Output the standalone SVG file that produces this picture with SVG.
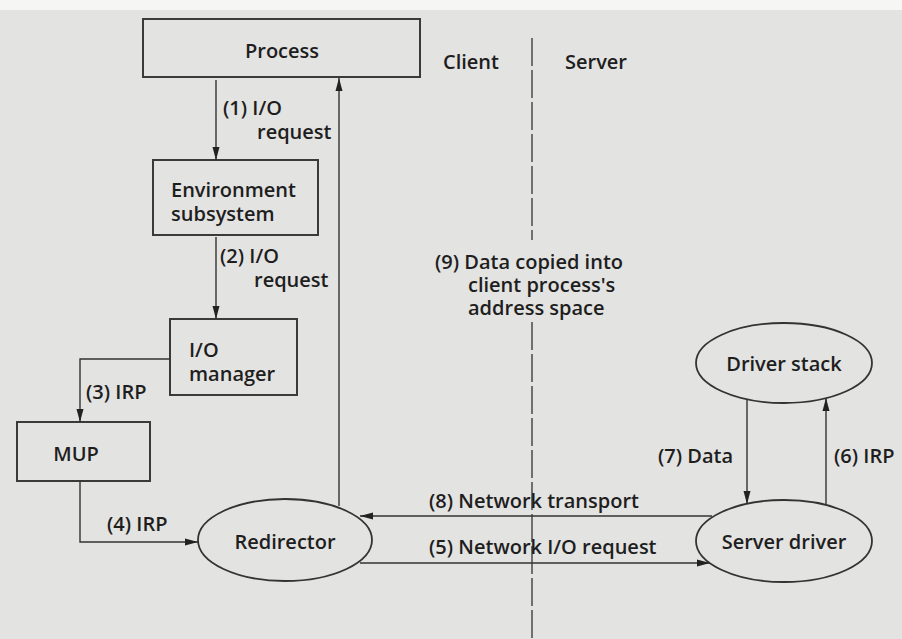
<svg xmlns="http://www.w3.org/2000/svg" width="902" height="639" viewBox="0 0 902 639">
<style>
.box{fill:none;stroke:#3a3a3a;stroke-width:2}
.ell{fill:none;stroke:#333;stroke-width:1.8}
.t{font-family:"Open Sans","Liberation Sans",sans-serif;font-size:20px;font-weight:600;fill:#1e1e1e}
.c{stroke:#333;stroke-width:1.4;fill:none}
.dash{stroke:#333;stroke-width:1.3;stroke-dasharray:28 4;fill:none}
</style>
<defs>
<marker id="ah" markerUnits="userSpaceOnUse" markerWidth="14" markerHeight="8" refX="13" refY="4" orient="auto">
<path d="M0,0.5 L13,4 L0,7.5 z" fill="#222"/>
</marker>
</defs>
<rect width="902" height="639" fill="#e3e3e1"/>
<rect width="902" height="10" fill="#f6f6f4"/>

<g id="divider">
<path class="dash" d="M532,38 V240"/>
<path class="dash" d="M532,322 V639"/>
<text class="t" x="443" y="69">Client</text>
<text class="t" x="565" y="69">Server</text>
</g>

<g id="process">
<rect class="box" x="143" y="19" width="277" height="58"/>
<text class="t" x="282" y="58" text-anchor="middle">Process</text>
</g>
<g id="env">
<rect class="box" x="153" y="160" width="165" height="75"/>
<text class="t" x="171" y="197">Environment</text>
<text class="t" x="171" y="221">subsystem</text>
</g>
<g id="iomgr">
<rect class="box" x="170" y="319" width="127" height="76"/>
<text class="t" x="189" y="357">I/O</text>
<text class="t" x="189" y="381">manager</text>
</g>
<g id="mup">
<rect class="box" x="17" y="422" width="133" height="59"/>
<text class="t" x="76" y="461" text-anchor="middle">MUP</text>
</g>
<g id="redirector">
<ellipse class="ell" cx="285" cy="540" rx="87" ry="41"/>
<text class="t" x="285" y="549" text-anchor="middle">Redirector</text>
</g>
<g id="driverstack">
<ellipse class="ell" cx="784" cy="363" rx="88" ry="40"/>
<text class="t" x="784" y="371" text-anchor="middle">Driver stack</text>
</g>
<g id="serverdriver">
<ellipse class="ell" cx="784" cy="541" rx="88" ry="41"/>
<text class="t" x="784" y="549" text-anchor="middle">Server driver</text>
</g>

<g id="connectors">
<path class="c" d="M216,80 V160" marker-end="url(#ah)"/>
<path class="c" d="M216,237 V319" marker-end="url(#ah)"/>
<path class="c" d="M170,359 H80 V422" marker-end="url(#ah)"/>
<path class="c" d="M80,481 V542 H198" marker-end="url(#ah)"/>
<path class="c" d="M339,506 V78" marker-end="url(#ah)"/>
<path class="c" d="M712,516 H360" marker-end="url(#ah)"/>
<path class="c" d="M360,563 H710" marker-end="url(#ah)"/>
<path class="c" d="M747,399 V504" marker-end="url(#ah)"/>
<path class="c" d="M826,505 V398" marker-end="url(#ah)"/>
</g>

<g id="labels">
<text class="t" x="223" y="115">(1) I/O</text>
<text class="t" x="257" y="139">request</text>
<text class="t" x="220" y="263">(2) I/O</text>
<text class="t" x="254" y="287">request</text>
<text class="t" x="86" y="399">(3) IRP</text>
<text class="t" x="107" y="531">(4) IRP</text>
<text class="t" x="435" y="269">(9) Data copied into</text>
<text class="t" x="468" y="292">client process's</text>
<text class="t" x="468" y="315">address space</text>
<text class="t" x="429" y="508">(8) Network transport</text>
<text class="t" x="429" y="554">(5) Network I/O request</text>
<text class="t" x="658" y="463">(7) Data</text>
<text class="t" x="834" y="463">(6) IRP</text>
</g>
</svg>
